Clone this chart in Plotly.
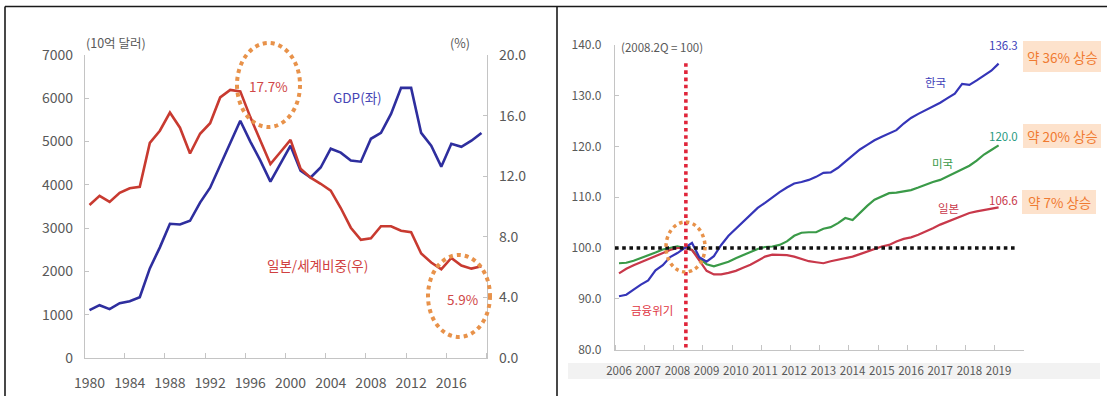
import plotly.graph_objects as go

# ---------------- data: left panel (Japan GDP & world share) ----------------
years = list(range(1980, 2020))
gdp_bn_usd = [1105, 1220, 1130, 1266, 1312, 1405, 2070, 2556, 3100, 3085,
              3170, 3590, 3935, 4445, 4950, 5480, 5000, 4560, 4075, 4490,
              4905, 4330, 4170, 4400, 4835, 4745, 4560, 4535, 5065, 5200,
              5640, 6240, 6240, 5200, 4905, 4420, 4950, 4880, 5020, 5200]
world_share_pct = [10.1, 10.7, 10.3, 10.9, 11.2, 11.3, 14.2, 15.0, 16.2, 15.2,
                   13.5, 14.8, 15.5, 17.2, 17.7, 17.6, 15.9, 14.4, 12.8, 13.6,
                   14.4, 12.5, 11.9, 11.5, 11.05, 9.9, 8.6, 7.8, 7.9, 8.7,
                   8.7, 8.4, 8.3, 6.9, 6.3, 5.85, 6.6, 6.1, 5.9, 6.05]
left_x_ticks = [1980, 1984, 1988, 1992, 1996, 2000, 2004, 2008, 2012, 2016]
left_y_ticks = [0, 1000, 2000, 3000, 4000, 5000, 6000, 7000]
right_pct_ticks = [0, 4, 8, 12, 16, 20]

# ---------------- data: right panel (real GDP index, 2008Q2 = 100) ----------------
quarter_labels = [f"{y}Q{q}" for y in range(2006, 2020) for q in range(1, 5)][:53]
quarters = [int(s[:4]) + (int(s[-1]) - 1) / 4 for s in quarter_labels]
korea = [90.5, 90.8, 91.8, 92.8, 93.6, 95.6, 96.6, 98.2, 99.0, 100.0,
         101.0, 98.2, 97.3, 98.4, 100.6, 102.4, 103.8, 105.0, 106.6, 107.9,
         108.9, 110.0, 111.0, 111.9, 112.7, 113.0, 113.4, 114.0, 114.8, 114.9,
         115.8, 117.0, 118.3, 119.4, 120.3, 121.2, 121.9, 122.5, 123.2, 124.5,
         125.6, 126.4, 127.1, 127.8, 128.6, 129.5, 130.4, 132.3, 132.1, 133.0,
         134.0, 134.9, 136.3]
usa = [97.0, 97.1, 97.5, 98.0, 98.6, 99.1, 99.7, 100.0, 100.3, 100.0,
       99.6, 98.0, 96.8, 96.4, 96.9, 97.3, 98.0, 98.6, 99.3, 99.8,
       100.2, 100.3, 100.6, 101.3, 102.4, 103.0, 103.1, 103.1, 103.8, 104.1,
       104.9, 105.9, 105.5, 107.0, 108.3, 109.5, 110.2, 110.8, 110.9, 111.1,
       111.4, 111.9, 112.5, 113.0, 113.4, 114.1, 114.8, 115.5, 116.2, 117.2,
       118.4, 119.3, 120.2]
japan = [95.0, 95.9, 96.6, 97.2, 97.8, 98.4, 99.0, 99.6, 100.0, 100.0,
         99.6, 97.5, 95.5, 94.8, 94.8, 95.1, 95.5, 96.1, 96.7, 97.5,
         98.3, 98.7, 98.7, 98.6, 98.3, 97.9, 97.4, 97.2, 97.0, 97.4,
         97.7, 97.9, 98.3, 98.8, 99.3, 99.9, 100.3, 100.6, 101.3, 101.8,
         102.1, 102.6, 103.2, 103.9, 104.6, 105.2, 105.8, 106.4, 106.9, 107.2,
         107.5, 107.7, 108.0]
right_x_ticks = list(range(2006, 2020))
right_y_ticks = [80, 90, 100, 110, 120, 130, 140]
base_value = 100
crisis_quarter = 2008.29
end_labels = {"korea": "136.3", "usa": "120.0", "japan": "106.6"}

# ---------------- styling helpers ----------------
W, H = 1107, 396
FONT = "Noto Sans CJK KR"
GRAY_TXT = "#595959"
AXIS_GRAY = "#c4c4c4"


def px(x):
    return x / W


def py(y):
    return 1 - y / H


fig = go.Figure()

fig.add_trace(go.Scatter(x=years, y=gdp_bn_usd, mode="lines",
                         line=dict(color="#2e2e9e", width=2.6),
                         xaxis="x", yaxis="y", hoverinfo="skip"))
fig.add_trace(go.Scatter(x=years, y=world_share_pct, mode="lines",
                         line=dict(color="#c83a30", width=2.6),
                         xaxis="x", yaxis="y2", hoverinfo="skip"))

fig.add_trace(go.Scatter(x=quarters, y=usa, mode="lines",
                         line=dict(color="#3a9a48", width=2.2),
                         xaxis="x2", yaxis="y3", hoverinfo="skip"))
fig.add_trace(go.Scatter(x=quarters, y=japan, mode="lines",
                         line=dict(color="#c8384a", width=2.2),
                         xaxis="x2", yaxis="y3", hoverinfo="skip"))
fig.add_trace(go.Scatter(x=quarters, y=korea, mode="lines",
                         line=dict(color="#3535b8", width=2.2),
                         xaxis="x2", yaxis="y3", hoverinfo="skip"))

axis_common = dict(showgrid=False, zeroline=False, showline=True, automargin=False,
                   linecolor=AXIS_GRAY, linewidth=1.2, fixedrange=True)

fig.update_layout(
    template="none",
    width=W, height=H, autosize=False,
    margin=dict(l=0, r=0, t=0, b=0, pad=0, autoexpand=False),
    paper_bgcolor="white", plot_bgcolor="white",
    showlegend=False,
    font=dict(family=FONT, color=GRAY_TXT),
    xaxis=dict(domain=[px(85), px(487)], range=[1979.55, 2019.55], anchor="y",
               tickvals=left_x_ticks, ticks="", ticklabelstandoff=12, tickangle=0,
               tickfont=dict(size=14, color=GRAY_TXT),
               minor=dict(ticks="inside", tick0=1983.5, dtick=4, ticklen=5,
                          tickcolor=AXIS_GRAY, showgrid=False),
               **axis_common),
    yaxis=dict(domain=[py(358), py(55)], range=[0, 7000], anchor="x",
               tickvals=left_y_ticks, ticks="inside", ticklen=4, tickcolor=AXIS_GRAY,
               ticklabelstandoff=8, tickfont=dict(size=14, color=GRAY_TXT),
               **axis_common),
    yaxis2=dict(overlaying="y", side="right", range=[0, 20], anchor="x",
                tickvals=right_pct_ticks, tickformat=".1f",
                ticks="inside", ticklen=4, tickcolor=AXIS_GRAY,
                ticklabelstandoff=8, tickfont=dict(size=14, color=GRAY_TXT),
                **axis_common),
    xaxis2=dict(domain=[px(615), px(1024)], range=[2005.863, 2019.87], anchor="y3",
                tickvals=right_x_ticks, ticks="", ticklabelstandoff=10, tickangle=0,
                tickfont=dict(size=11.5, color=GRAY_TXT),
                minor=dict(ticks="inside", tick0=2006.875, dtick=1, ticklen=5,
                           tickcolor=AXIS_GRAY, showgrid=False),
                **axis_common),
    yaxis3=dict(domain=[py(349.6), py(44.8)], range=[80, 140], anchor="x2",
                tickvals=right_y_ticks, tickformat=".1f",
                ticks="inside", ticklen=4, tickcolor=AXIS_GRAY,
                ticklabelstandoff=10, tickfont=dict(size=12, color=GRAY_TXT),
                **axis_common),
)

shapes = []
# panel frames
frame = dict(type="line", xref="paper", yref="paper",
             line=dict(color="#1a1a1a", width=1.6))
shapes.append(dict(frame, x0=px(5), x1=1, y0=py(6.5), y1=py(6.5)))
shapes.append(dict(frame, x0=px(5), x1=px(5), y0=py(6.5), y1=0))
shapes.append(dict(frame, x0=px(557), x1=px(557), y0=py(6.5), y1=0))
# light strip under right panel axis labels
shapes.append(dict(type="rect", xref="paper", yref="paper", layer="below",
                   x0=px(568), x1=px(1100), y0=py(379), y1=py(363),
                   fillcolor="#f2f2f2", line=dict(width=0)))

# baseline and crisis markers (data coordinates)
shapes.append(dict(type="line", xref="x2", yref="y3",
                   x0=2005.863, x1=2019.56, y0=base_value, y1=base_value,
                   line=dict(color="#111111", width=3.6, dash="dot")))
shapes.append(dict(type="line", xref="x2", yref="y3",
                   x0=crisis_quarter, x1=crisis_quarter, y0=80.4, y1=136.4,
                   line=dict(color="#e0253a", width=3.6, dash="dot")))

# dotted highlight ellipses
ell = dict(type="circle", xref="paper", yref="paper",
           line=dict(color="#e8924a", width=4, dash="dot"))
shapes.append(dict(ell, x0=px(237), x1=px(300), y0=py(127), y1=py(43)))
shapes.append(dict(ell, x0=px(428), x1=px(490), y0=py(337), y1=py(255)))
shapes.append(dict(ell, x0=px(666), x1=px(705), y0=py(272), y1=py(222),
                   line=dict(color="#e8924a", width=3.5, dash="dot")))

# percentage boxes
box = dict(type="rect", xref="paper", yref="paper", layer="below",
           fillcolor="#fde2cc", line=dict(width=0))
shapes.append(dict(box, x0=px(1023), x1=px(1101), y0=py(72), y1=py(41)))
shapes.append(dict(box, x0=px(1023), x1=px(1101), y0=py(148), y1=py(124)))
shapes.append(dict(box, x0=px(1022), x1=px(1096), y0=py(214), y1=py(190)))

fig.update_layout(shapes=shapes)


def note(text, x, y, color, size, xanchor="center", bold=False):
    fig.add_annotation(text=f"<b>{text}</b>" if bold else text,
                       x=px(x), y=py(y), xref="paper", yref="paper",
                       xanchor=xanchor, yanchor="middle", showarrow=False,
                       font=dict(family=FONT, size=size, color=color))


# left panel texts
note("(10억 달러)", 84, 42, GRAY_TXT, 12.5, xanchor="left")
note("(%)", 460, 42, GRAY_TXT, 12.5)
note("17.7%", 268, 86, "#d04848", 13.5)
note("GDP(좌)", 357, 97, "#4545b5", 13.5)
note("일본/세계비중(우)", 317, 265, "#d04040", 13.5)
note("5.9%", 462, 299, "#d04848", 13.5)

# right panel texts
note("(2008.2Q = 100)", 619, 47, GRAY_TXT, 11.5, xanchor="left")
note("금융위기", 652, 310, "#e0353f", 11.5)
note("한국", 935, 82, "#4040b8", 11.5)
note("미국", 942, 163, "#3a9a48", 11.5)
note("일본", 948, 208, "#c8384a", 11.5)
note(end_labels["korea"], 1003, 45, "#4040b8", 11.5)
note(end_labels["usa"], 1003, 136, "#2a9a80", 11.5)
note(end_labels["japan"], 1003, 200, "#c8384a", 11.5)
note("약 36% 상승", 1062, 57, "#f07a30", 13.5)
note("약 20% 상승", 1062, 136, "#f07a30", 13.5)
note("약 7% 상승", 1059, 202, "#f07a30", 13.5)

fig.write_html(
    "out.html",
    config={"responsive": False, "displayModeBar": False},
    post_script="document.body.style.margin='0px';document.body.style.padding='0px';"
                "document.body.style.overflow='hidden';",
)
